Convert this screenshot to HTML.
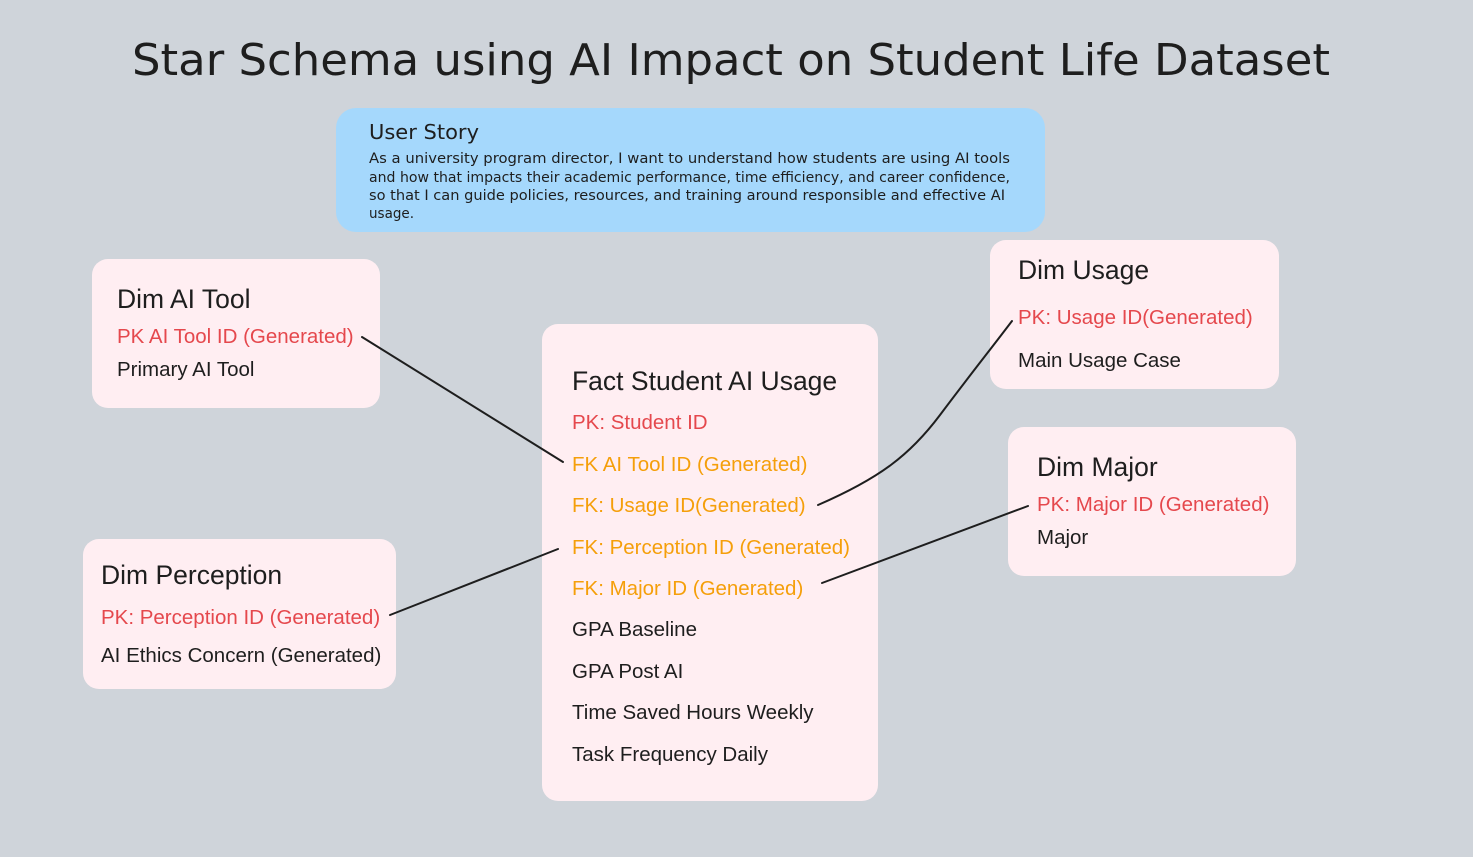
<!DOCTYPE html>
<html><head><meta charset="utf-8"><style>
html,body{margin:0;padding:0;background:#cfd4da;}
body{width:1473px;height:857px;overflow:hidden;position:relative;font-family:"Liberation Sans",sans-serif;}
.box{position:absolute;background:#ffeef2;border-radius:16px;}
.t{position:absolute;white-space:nowrap;color:#1e1e1e;}
.h{font-size:26.5px;}
.f{font-size:20.5px;}
.r{color:#e5484d;}
.o{color:#f59f0a;}
</style></head><body>
<svg width="1473" height="857" style="position:absolute;left:0;top:0">
<text x="132" y="75" textLength="1198" lengthAdjust="spacingAndGlyphs" font-family="DejaVu Sans, sans-serif" font-size="44" fill="#1e1e1e">Star Schema using AI Impact on Student Life Dataset</text>
</svg>
<div class="box" style="left:336px;top:108px;width:709px;height:124px;background:#a5d8fc;border-radius:20px"></div>
<svg width="1473" height="857" style="position:absolute;left:0;top:0">
<text x="369" y="139" font-size="20" font-family="DejaVu Sans, sans-serif" fill="#1e1e1e" textLength="110" lengthAdjust="spacingAndGlyphs">User Story</text>
<g font-size="14" font-family="DejaVu Sans, sans-serif" fill="#1e1e1e">
<text x="369" y="163" textLength="641" lengthAdjust="spacingAndGlyphs">As a university program director, I want to understand how students are using AI tools</text>
<text x="369" y="182" textLength="641" lengthAdjust="spacingAndGlyphs">and how that impacts their academic performance, time efficiency, and career confidence,</text>
<text x="369" y="200" textLength="636" lengthAdjust="spacingAndGlyphs">so that I can guide policies, resources, and training around responsible and effective AI</text>
<text x="369" y="218" textLength="45" lengthAdjust="spacingAndGlyphs">usage.</text>
</g>
</svg>
<div class="box" style="left:92px;top:259px;width:288px;height:149px"></div>
<div class="box" style="left:542px;top:324px;width:336px;height:477px"></div>
<div class="box" style="left:990px;top:240px;width:289px;height:149px"></div>
<div class="box" style="left:1008px;top:427px;width:288px;height:149px"></div>
<div class="box" style="left:83px;top:539px;width:313px;height:150px"></div>

<div class="t h" style="left:117px;top:284px">Dim AI Tool</div>
<div class="t f r" style="left:117px;top:325px">PK AI Tool ID (Generated)</div>
<div class="t f" style="left:117px;top:358px">Primary AI Tool</div>

<div class="t h" style="left:572px;top:366px">Fact Student AI Usage</div>
<div class="t f r" style="left:572px;top:411px">PK: Student ID</div>
<div class="t f o" style="left:572px;top:453px">FK AI Tool ID (Generated)</div>
<div class="t f o" style="left:572px;top:494px">FK: Usage ID(Generated)</div>
<div class="t f o" style="left:572px;top:536px">FK: Perception ID (Generated)</div>
<div class="t f o" style="left:572px;top:577px">FK: Major ID (Generated)</div>
<div class="t f" style="left:572px;top:618px">GPA Baseline</div>
<div class="t f" style="left:572px;top:660px">GPA Post AI</div>
<div class="t f" style="left:572px;top:701px">Time Saved Hours Weekly</div>
<div class="t f" style="left:572px;top:743px">Task Frequency Daily</div>

<div class="t h" style="left:1018px;top:255px">Dim Usage</div>
<div class="t f r" style="left:1018px;top:306px">PK: Usage ID(Generated)</div>
<div class="t f" style="left:1018px;top:349px">Main Usage Case</div>

<div class="t h" style="left:1037px;top:452px">Dim Major</div>
<div class="t f r" style="left:1037px;top:493px">PK: Major ID (Generated)</div>
<div class="t f" style="left:1037px;top:526px">Major</div>

<div class="t h" style="left:101px;top:560px">Dim Perception</div>
<div class="t f r" style="left:101px;top:606px">PK: Perception ID (Generated)</div>
<div class="t f" style="left:101px;top:644px">AI Ethics Concern (Generated)</div>

<svg width="1473" height="857" style="position:absolute;left:0;top:0">
<g stroke="#1e1e1e" stroke-width="2" fill="none" stroke-linecap="round">
<path d="M362,337 L563,462"/>
<path d="M818,505 C880,478 910,455 940,415 S990,350 1012,321"/>
<path d="M390,615 L558,549"/>
<path d="M822,583 L1028,506"/>
</g>
</svg>
</body></html>
